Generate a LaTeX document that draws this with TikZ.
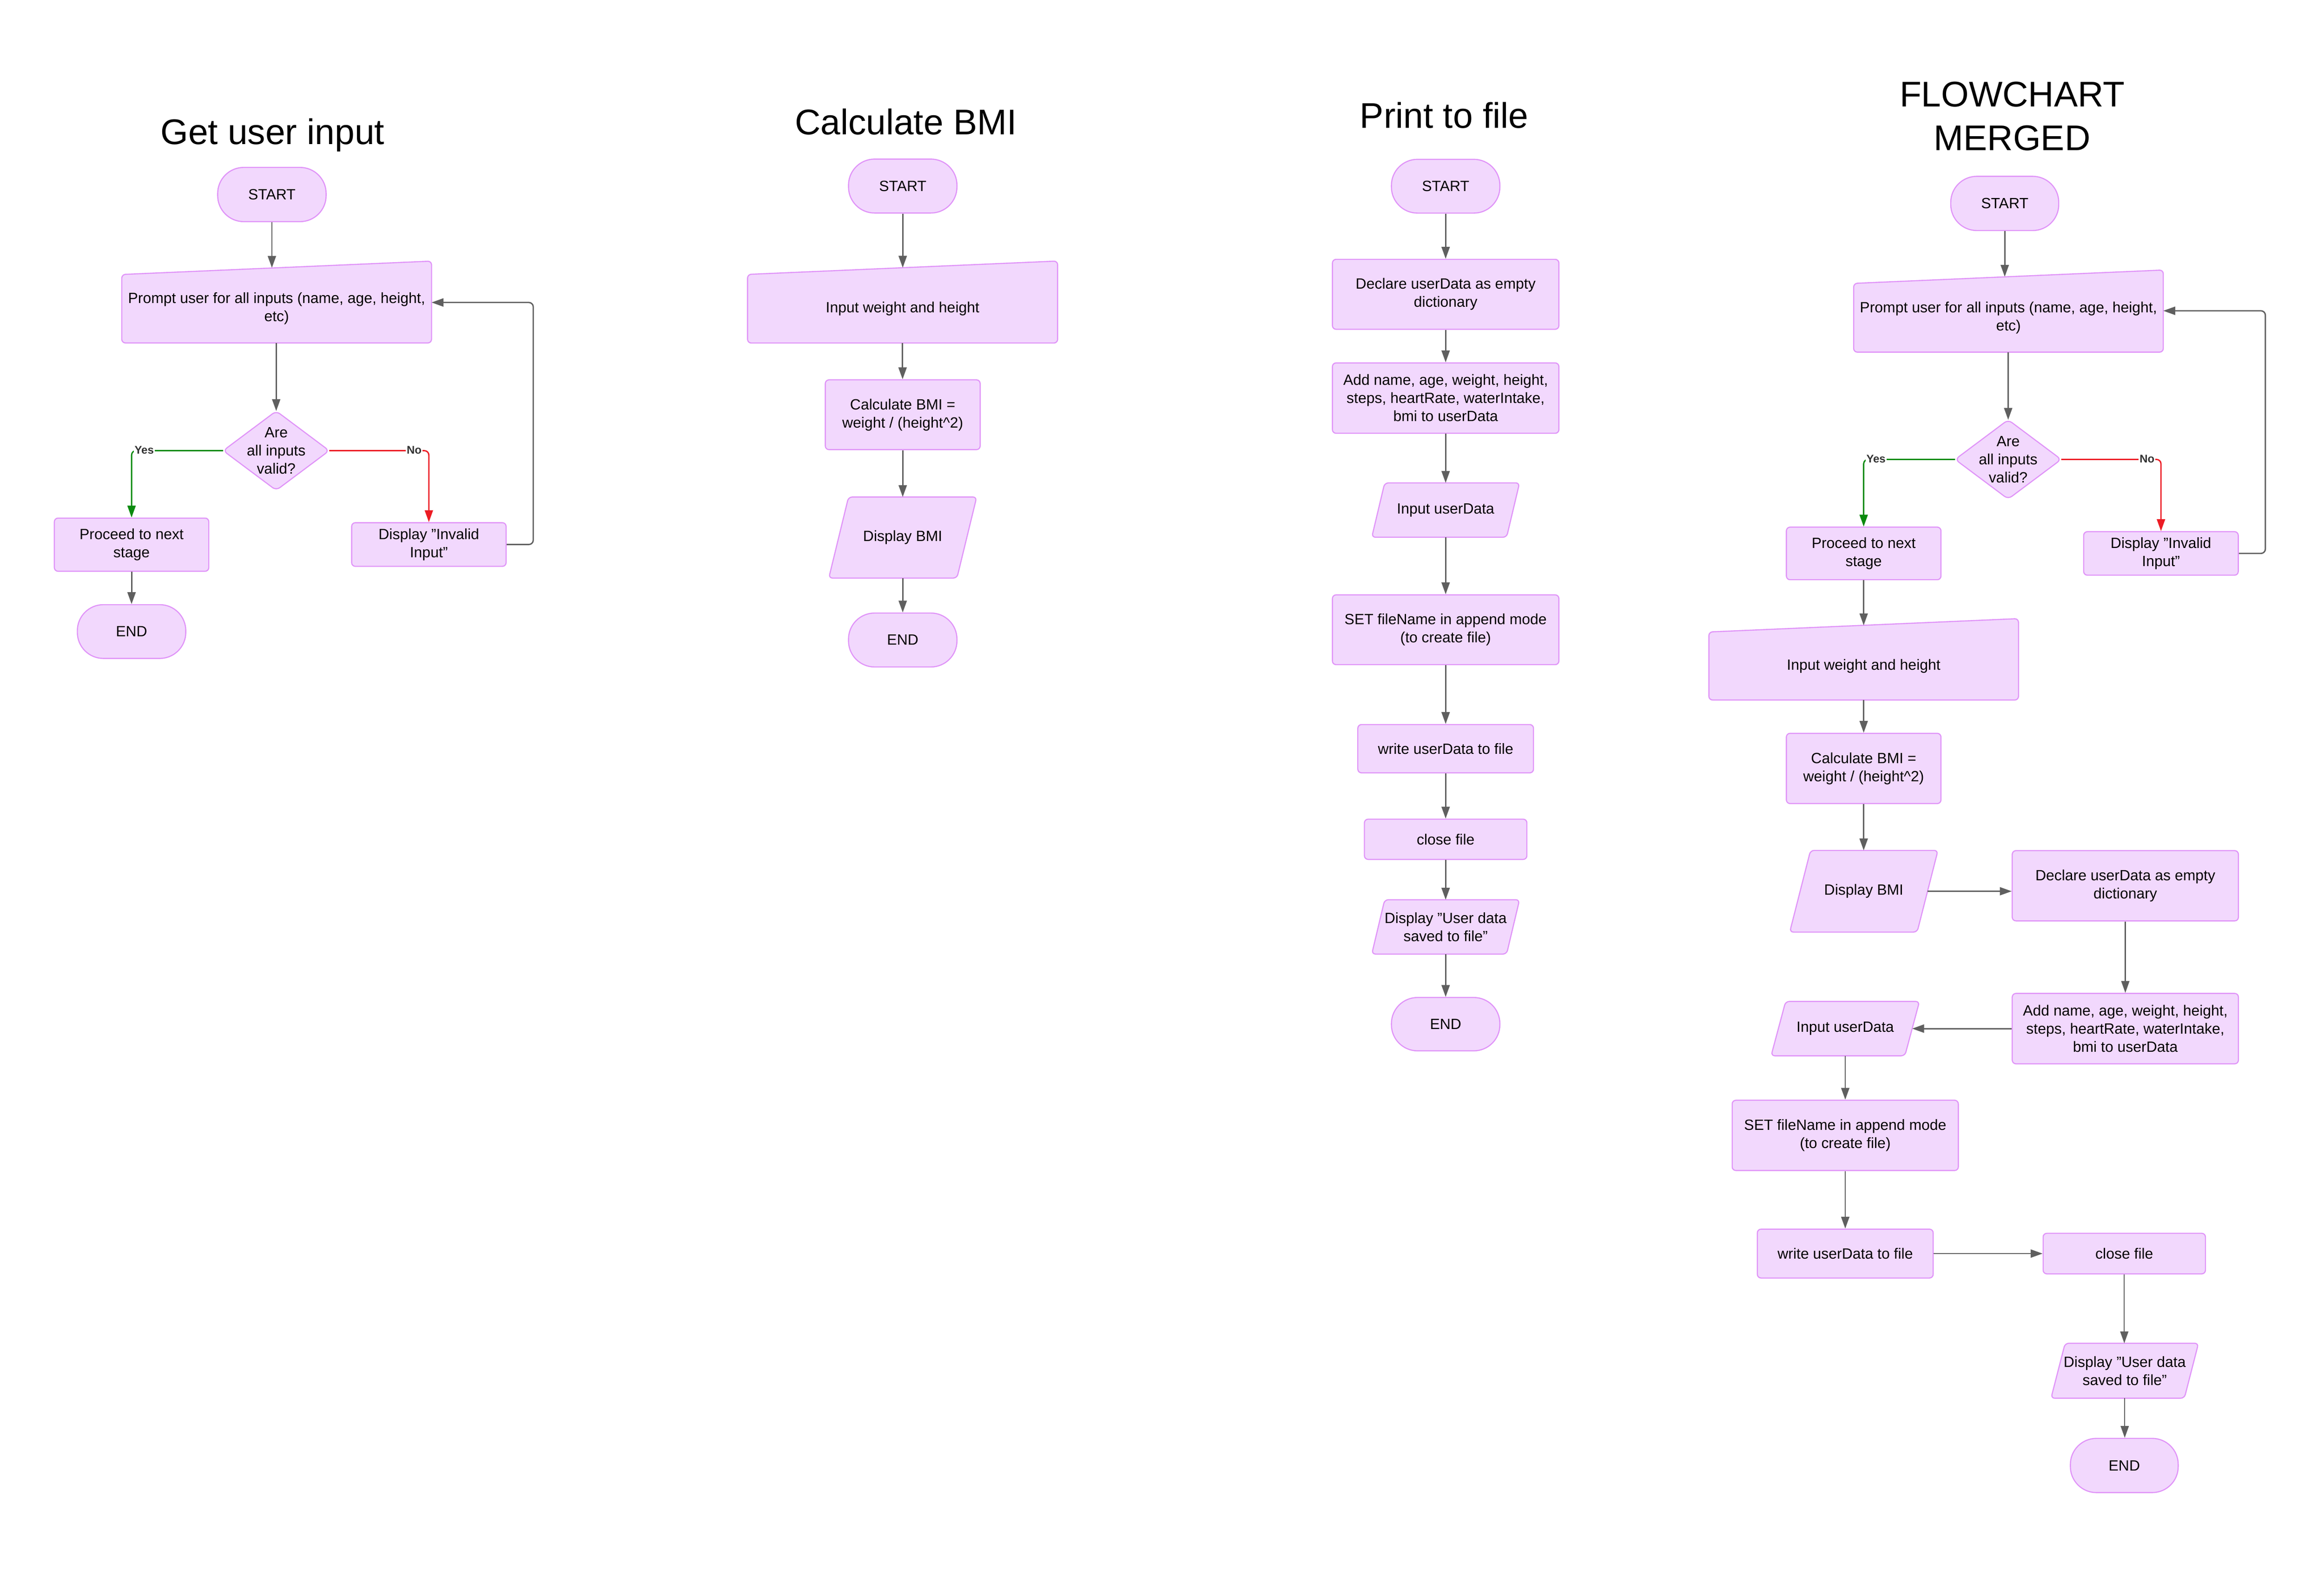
\documentclass[tikz,border=0pt]{standalone}
\usepackage{fontspec}
\setmainfont{Liberation Sans}
\usetikzlibrary{arrows.meta,calc}
\definecolor{fillc}{HTML}{F2D8FD}
\definecolor{bord}{HTML}{E094F8}
\definecolor{arr}{HTML}{5F5F5F}
\definecolor{grn}{HTML}{0A8A0E}
\definecolor{rd}{HTML}{EC1C24}
\definecolor{lbl}{HTML}{333333}
\pgfdeclarelayer{bg}
\pgfsetlayers{bg,main}
\tikzset{
  txt/.style={font=\fontsize{10}{12.2}\selectfont, align=center, inner sep=0pt, text=black},
  sz/.style 2 args={minimum width=#1pt, minimum height=#2pt},
  proc/.style={txt, draw=bord, fill=fillc, line width=0.75pt, rounded corners=2.5pt},
  term/.style={txt, draw=bord, fill=fillc, line width=0.75pt, rounded corners=17.5pt},
  shapeline/.style={draw=bord, fill=fillc, line width=0.75pt, rounded corners=2.5pt},
  conn/.style={draw=arr, line width=0.9pt, -{Triangle[length=8pt,width=5.5pt]}},
  thinconn/.style={conn, line width=0.7pt},
  yesc/.style={conn, draw=grn, rounded corners=3pt},
  noc/.style={conn, draw=rd, rounded corners=3pt},
  loopc/.style={conn, rounded corners=3pt},
  ttl/.style={font=\fontsize{24}{29.3}\selectfont, align=center, inner sep=0pt},
  lab/.style={font=\fontsize{7.5}{9}\selectfont\bfseries, text=lbl, fill=white, inner sep=0.6pt},
}
\newcommand{\maninshape}[1]{\path[shapeline] (#1.south west) -- (#1.north west) -- ($(#1.north east)+(0,-9)$) -- (#1.south east) -- cycle;}
\newcommand{\parashape}[2]{\path[shapeline] (#1.south west) -- ($(#1.north west)+(#2,0)$) -- (#1.north east) -- ($(#1.south east)+(-#2,0)$) -- cycle;}
\newcommand{\diashape}[1]{\path[shapeline, rounded corners=3pt] (#1.west) -- (#1.north) -- (#1.east) -- (#1.south) -- cycle;}
\begin{document}
\begin{tikzpicture}[x=1pt,y=-1pt]
\useasboundingbox (0,0) rectangle (1565,1061.7);

% ---------------- Chart 1: Get user input ----------------
\node[ttl] (t1) at (183.5,91) {Get user input};
\node[term, sz={73}{36.5}] (s1) at (183.1,131) {START};
\node[txt, sz={208.2}{45.7}] (mi1) at (186.3,207.9) {Prompt user for all inputs (name, age, height,\\etc)};
\node[txt, sz={71}{53}] (dia1) at (186,303.5) {Are\\all inputs\\valid?};
\node[proc, sz={104}{35.8}] (pr1) at (88.6,366.8) {Proceed to next\\stage};
\node[proc, sz={104}{29.4}] (inv1) at (288.8,366.7) {Display "Invalid\\Input"};
\node[term, sz={73}{36.2}] (e1) at (88.6,425.3) {END};
\coordinate (mi1top) at ($(mi1.north)+(0,-4.5)$);
\coordinate (lp1) at (359.1,203.7);

% ---------------- Chart 2: Calculate BMI ----------------
\node[ttl] (t2) at (610,82.1) {Calculate BMI};
\node[term, sz={73}{36.3}] (s2) at (607.9,125.3) {START};
\node[txt, sz={208.4}{45.8}] (mi2) at (607.8,207.9) {Input weight and height};
\node[proc, sz={104.3}{47}] (c2) at (607.9,279.3) {Calculate BMI =\\weight / (height\textasciicircum 2)};
\node[txt, sz={99.2}{54.2}] (db2) at (607.9,362) {Display BMI};
\node[term, sz={73}{36.3}] (e2) at (607.9,431) {END};
\coordinate (mi2top) at ($(mi2.north)+(0,-4.5)$);

% ---------------- Chart 3: Print to file ----------------
\node[ttl] (t3) at (972.5,77.8) {Print to file};
\node[term, sz={73}{36.2}] (s3) at (973.5,125.4) {START};
\node[proc, sz={152.5}{47.1}] (dc3) at (973.5,198.2) {Declare userData as empty\\dictionary};
\node[proc, sz={152.5}{47.4}] (ad3) at (973.5,268.1) {Add name, age, weight, height,\\steps, heartRate, waterIntake,\\bmi to userData};
\node[txt, sz={99.1}{36.2}] (iu3) at (973.5,343.5) {Input userData};
\node[proc, sz={152.5}{47}] (st3) at (973.5,424.1) {SET fileName in append mode\\(to create file)};
\node[proc, sz={118.3}{32.5}] (wr3) at (973.5,504.2) {write userData to file};
\node[proc, sz={109.4}{27.1}] (cl3) at (973.5,565.2) {close file};
\node[txt, sz={99.1}{36.2}] (du3) at (973.5,624.2) {Display "User data\\saved to file"};
\node[term, sz={73}{35.9}] (e3) at (973.5,689.7) {END};

% ---------------- Chart 4: FLOWCHART MERGED ----------------
\node[ttl] (t4) at (1355,78.3) {FLOWCHART\\MERGED};
\node[term, sz={72.7}{36.5}] (s4) at (1350,137) {START};
\node[txt, sz={208.1}{45.9}] (mi4) at (1352.5,214) {Prompt user for all inputs (name, age, height,\\etc)};
\node[txt, sz={71}{53}] (dia4) at (1352.3,309.4) {Are\\all inputs\\valid?};
\node[proc, sz={104.1}{35.4}] (pr4) at (1255,372.7) {Proceed to next\\stage};
\node[proc, sz={104.1}{29.3}] (inv4) at (1455.2,372.7) {Display "Invalid\\Input"};
\node[txt, sz={208.1}{45.4}] (mw4) at (1255,448.5) {Input weight and height};
\node[proc, sz={104.1}{47.3}] (c4) at (1255,517.5) {Calculate BMI =\\weight / (height\textasciicircum 2)};
\node[txt, sz={99.4}{54.6}] (db4) at (1255.1,600.2) {Display BMI};
\node[proc, sz={152.3}{47.3}] (dc4) at (1431.2,596.5) {Declare userData as empty\\dictionary};
\node[proc, sz={152.3}{47.4}] (ad4) at (1431.2,692.7) {Add name, age, weight, height,\\steps, heartRate, waterIntake,\\bmi to userData};
\node[txt, sz={99.5}{36.2}] (iu4) at (1242.6,692.7) {Input userData};
\node[proc, sz={152.3}{47.3}] (st4) at (1242.6,764.6) {SET fileName in append mode\\(to create file)};
\node[proc, sz={118.4}{32.9}] (wr4) at (1242.6,844.2) {write userData to file};
\node[proc, sz={109.3}{27.3}] (cl4) at (1430.5,844.2) {close file};
\node[txt, sz={98.9}{36.6}] (du4) at (1430.8,923.1) {Display "User data\\saved to file"};
\node[term, sz={72.6}{36.5}] (e4) at (1430.5,986.9) {END};
\coordinate (mi4top) at ($(mi4.north)+(0,-4.5)$);
\coordinate (mw4top) at ($(mw4.north)+(0,-4.5)$);
\coordinate (lp4) at (1525.5,209.3);
\coordinate (db4r) at ($(db4.east)+(-7,0)$);
\coordinate (iu4r) at ($(iu4.east)+(-4.9,0)$);

% ---------------- shapes on background ----------------
\begin{pgfonlayer}{bg}
  \maninshape{mi1}
  \diashape{dia1}
  \maninshape{mi2}
  \parashape{db2}{13.3}
  \parashape{iu3}{8.7}
  \parashape{du3}{8.7}
  \maninshape{mi4}
  \diashape{dia4}
  \maninshape{mw4}
  \parashape{db4}{14}
  \parashape{iu4}{9.8}
  \parashape{du4}{9.5}
\end{pgfonlayer}

% ---------------- connectors chart 1 ----------------
\draw[conn] (s1.south) -- (s1.south |- mi1top);
\draw[conn] (dia1.north |- mi1.south) -- (dia1.north);
\draw[yesc] (dia1.west) -| (pr1.north);
\draw[noc] (dia1.east) -| (inv1.north);
\draw[conn] (pr1.south) -- (e1.north);
\draw[loopc] (inv1.east) -| (lp1) -- (mi1.east |- lp1);
\node[lab] (y1) at (97.1,303) {Yes};
\node[lab] (n1) at (278.9,303) {No};

% ---------------- connectors chart 2 ----------------
\draw[conn] (s2.south) -- (s2.south |- mi2top);
\draw[conn] (mi2.south) -- (mi2.south |- c2.north);
\draw[conn] (c2.south) -- (c2.south |- db2.north);
\draw[conn] (db2.south) -- (db2.south |- e2.north);

% ---------------- connectors chart 3 ----------------
\draw[conn] (s3.south) -- (dc3.north);
\draw[conn] (dc3.south) -- (ad3.north);
\draw[conn] (ad3.south) -- (iu3.north);
\draw[conn] (iu3.south) -- (st3.north);
\draw[conn] (st3.south) -- (wr3.north);
\draw[conn] (wr3.south) -- (cl3.north);
\draw[conn] (cl3.south) -- (du3.north);
\draw[conn] (du3.south) -- (e3.north);

% ---------------- connectors chart 4 ----------------
\draw[conn] (s4.south) -- (s4.south |- mi4top);
\draw[conn] (dia4.north |- mi4.south) -- (dia4.north);
\draw[yesc] (dia4.west) -| (pr4.north);
\draw[noc] (dia4.east) -| (inv4.north);
\draw[loopc] (inv4.east) -| (lp4) -- (mi4.east |- lp4);
\node[lab] (y4) at (1263.3,309) {Yes};
\node[lab] (n4) at (1445.8,309) {No};
\draw[conn] (pr4.south) -- (pr4.south |- mw4top);
\draw[conn] (mw4.south) -- (c4.north);
\draw[conn] (c4.south) -- (c4.south |- db4.north);
\draw[thinconn] (db4r) -- (dc4.west |- db4r);
\draw[thinconn] (dc4.south) -- (ad4.north);
\draw[conn] (ad4.west) -- (iu4r);
\draw[conn] (iu4.south) -- (st4.north);
\draw[conn] (st4.south) -- (wr4.north);
\draw[thinconn] (wr4.east) -- (cl4.west);
\draw[thinconn] (cl4.south) -- (cl4.south |- du4.north);
\draw[thinconn] (du4.south) -- (du4.south |- e4.north);
\end{tikzpicture}
\end{document}
